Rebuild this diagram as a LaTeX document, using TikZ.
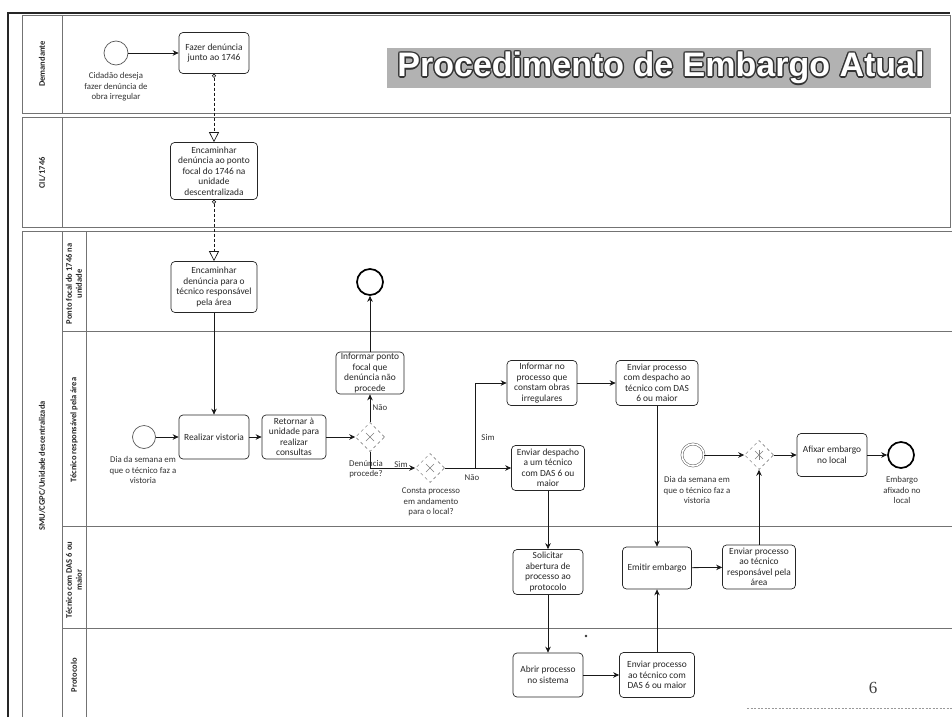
\documentclass[tikz,border=0pt]{standalone}
\usepackage{fontspec}
\setmainfont{Carlito}
\newfontfamily\titlefont{Liberation Sans}
\newfontfamily\pagefont{Liberation Serif}
\usetikzlibrary{arrows.meta,shapes.geometric,calc}
\tikzset{
  task/.style={draw=black!85, line width=0.7pt, rounded corners=4pt, align=center, inner sep=1pt,
    font=\fontsize{9.4}{10.5}\selectfont, text=black!85},
  lbl/.style={align=center, font=\fontsize{8.8}{10.4}\selectfont, text=black!80, inner sep=0pt},
  lane/.style={draw=black!55, line width=0.6pt},
  lanetxt/.style={rotate=90, align=center, font=\bfseries\fontsize{8.5}{10}\selectfont, text=black!85, inner sep=0pt},
  flow/.style={draw=black!90, line width=0.8pt, -{Stealth[length=6pt,width=5.5pt]}},
  msg/.style={draw=black!90, line width=0.7pt, dash pattern=on 3pt off 2pt,
    {Circle[open,length=4pt,width=4pt]}-{Triangle[open,length=10pt,width=10pt]}},
  gate/.style={diamond, draw=black!60, dashed, line width=0.5pt, minimum width=29pt, minimum height=29pt, inner sep=0pt},
  gmark/.style={draw=black!50, line width=0.5pt},
  startev/.style={circle, draw=black!65, line width=0.7pt, minimum size=24pt, inner sep=0pt},
  endev/.style={circle, draw=black, line width=1.7pt, minimum size=26pt, inner sep=0pt},
  ttl/.style={font=\titlefont\bfseries\fontsize{34}{34}\selectfont, inner sep=0pt},
}
\begin{document}
\begin{tikzpicture}[x=1pt,y=-1pt]
\useasboundingbox (0,0) rectangle (952,717);
\fill[white] (0,0) rectangle (952,717);

% frame and pools
\draw[line width=2pt, black!85] (8,717) -- (8,13) -- (950,13);
\draw[lane] (22,15) rectangle (950,113);
\draw[lane] (62,15) -- (62,113);
\draw[lane] (22,117) rectangle (950,227);
\draw[lane] (62,117) -- (62,227);
\draw[lane] (952,231) -- (22,231) -- (22,717);
\draw[lane] (62,231) -- (62,717);
\draw[lane] (86,231) -- (86,717);
\draw[lane] (62,331) -- (952,331);
\draw[lane] (62,526) -- (952,526);
\draw[lane] (62,628) -- (952,628);

% lane labels
\node[lanetxt] (ld) at (42,64) {Demandante};
\node[lanetxt] (lc) at (42,173) {CIL/1746};
\node[lanetxt] (ls) at (42,466) {SMU/CGPC/Unidade descentralizada};
\node[lanetxt] (lp) at (74,284) {Ponto focal do 1746 na\\unidade};
\node[lanetxt] (lt) at (74,430) {Técnico responsável pela área};
\node[lanetxt] (lt2) at (74,580) {Técnico com DAS 6 ou\\maior};
\node[lanetxt] (lpr) at (74,675) {Protocolo};

% title
\fill[black!30] (387,48) rectangle (931,88);
\foreach \a in {0,45,...,315}
  \node[ttl, text=black!80] (tt\a) at ($(661,68)+(\a:1.4)$) {Procedimento de Embargo Atual};
\node[ttl, text=white] (title) at (661,68) {Procedimento de Embargo Atual};

% Demandante
\node[startev] (s1) at (116,53) {};
\node[lbl] (s1l) at (116,87) {Cidadão deseja\\fazer denúncia de\\obra irregular};
\node[task, minimum width=70pt, minimum height=41pt] (t1) at (214,53) {Fazer denúncia\\junto ao 1746};
\draw[flow] (s1) -- (t1);

% CIL
\node[task, minimum width=87pt, minimum height=57pt] (t2) at (214,171) {Encaminhar\\denúncia ao ponto\\focal do 1746 na\\unidade\\descentralizada};
\draw[msg] (t1.south) -- (t2.north);

% Ponto focal
\node[task, minimum width=86pt, minimum height=51pt] (t3) at (214,287) {Encaminhar\\denúncia para o\\técnico responsável\\pela área};
\draw[msg] (t2.south) -- (t3.north);
\node[endev] (e1) at (370,282) {};

% Tecnico responsavel
\node[startev, minimum size=23pt] (s2) at (144,437) {};
\node[lbl] (s2l) at (143,470) {Dia da semana em\\que o técnico faz a\\vistoria};
\node[task, minimum width=70pt, minimum height=44pt] (t4) at (214,437) {Realizar vistoria};
\draw[flow] (t3) -- (t4);
\draw[flow] (s2) -- (t4);
\node[task, minimum width=64pt, minimum height=44pt] (t5) at (294,437) {Retornar à\\unidade para\\realizar\\consultas};
\draw[flow] (t4) -- (t5);
\node[gate] (g1) at (370,437) {};
\draw[flow] (t5) -- (g1);
\node[task, minimum width=68pt, minimum height=42pt] (t6) at (370,373) {Informar ponto\\focal que\\denúncia não\\procede};
\draw[flow] (g1) -- (t6);
\node[lbl] (nao1) at (380,408) {Não};
\draw[flow] (t6) -- (e1);
\node[lbl] (g1l) at (366,469) {Denúncia\\procede?};
\node[gate] (g2) at (430,468) {};
\draw[flow] (g1.south) |- (g2.west);
\node[lbl] (sim1) at (401,464) {Sim};
\node[lbl] (g2l) at (431,502) {Consta processo\\em andamento\\para o local?};
\node[task, minimum width=70pt, minimum height=45pt] (t7) at (542,383) {Informar no\\processo que\\constam obras\\irregulares};
\node[task, minimum width=73pt, minimum height=45pt] (t8) at (548,468) {Enviar despacho\\a um técnico\\com DAS 6 ou\\maior};
\coordinate (b1) at (475,468);
\draw[flow] (g2.east) -- (b1) |- (t7.west);
\draw[flow] (g2.east) -- (t8.west);
\node[lbl] (sim2) at (488,437) {Sim};
\node[lbl] (nao2) at (472,478) {Não};
\node[task, minimum width=82pt, minimum height=45pt] (t9) at (657,383) {Enviar processo\\com despacho ao\\técnico com DAS\\6 ou maior};
\draw[flow] (t7) -- (t9);
\node[circle, draw=black!65, line width=0.5pt, double=white, double distance=1.6pt, minimum size=22pt, inner sep=0pt] (s3) at (693,455) {};
\node[lbl] (s3l) at (697,490) {Dia da semana em\\que o técnico faz a\\vistoria};
\node[gate] (g3) at (759,455) {};
\draw[flow] (s3) -- (g3);
\node[task, minimum width=70pt, minimum height=43pt] (t10) at (832,455) {Afixar embargo\\no local};
\draw[flow] (g3) -- (t10);
\node[endev] (e2) at (901,455) {};
\draw[flow] (t10) -- (e2);
\node[lbl] (e2l) at (902,490) {Embargo\\afixado no\\local};

% gateway marks
\foreach \g in {g1,g2,g3} {
  \draw[gmark] ($(\g)+(-4,-4)$) -- ($(\g)+(4,4)$);
  \draw[gmark] ($(\g)+(-4,4)$) -- ($(\g)+(4,-4)$);
}
\draw[gmark] ($(g3)+(0,-5)$) -- ($(g3)+(0,5)$);

% Tecnico com DAS
\node[task, minimum width=70pt, minimum height=45pt] (t11) at (548,572) {Solicitar\\abertura de\\processo ao\\protocolo};
\draw[flow] (t8) -- (t11);
\node[task, minimum width=69pt, minimum height=42pt] (t12) at (657,568) {Emitir embargo};
\draw[flow] (t9) -- (t12);
\node[task, minimum width=73pt, minimum height=44pt] (t13) at (759,567) {Enviar processo\\ao técnico\\responsável pela\\área};
\draw[flow] (t12) -- (t13);
\draw[flow] (t13) -- (g3);

% Protocolo
\node[task, minimum width=70pt, minimum height=44pt] (t14) at (548,675) {Abrir processo\\no sistema};
\draw[flow] (t11) -- (t14);
\node[task, minimum width=75pt, minimum height=45pt] (t15) at (657,675) {Enviar processo\\ao técnico com\\DAS 6 ou maior};
\draw[flow] (t14) -- (t15);
\draw[flow] (t15) -- (t12);

% page marks
\fill[black!80] (586,636) circle (1.3pt);
\node[font=\pagefont\fontsize{17}{17}\selectfont, text=black!75, inner sep=0pt] (pg) at (873,688) {6};
\draw[black!40, dash pattern=on 2pt off 1.5pt, line width=0.8pt] (747,708) -- (952,708);
\end{tikzpicture}
\end{document}
